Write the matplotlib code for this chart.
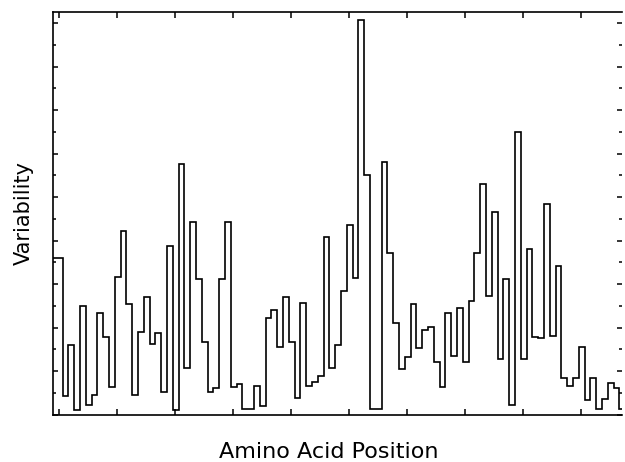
import numpy as np
import matplotlib
matplotlib.use("Agg")
import matplotlib.pyplot as plt
from matplotlib.ticker import MultipleLocator

# Variability per amino acid position
variability = [
    7.20, 0.85, 3.20, 0.21, 5.01, 0.44, 0.90, 4.68, 3.58, 1.25,
    6.32, 8.42, 5.06, 0.90, 3.81, 5.42, 3.22, 3.73, 1.05, 7.75,
    0.22, 11.52, 2.14, 8.86, 6.23, 3.33, 1.03, 1.22, 6.22, 8.86,
    1.28, 1.40, 0.24, 0.24, 1.31, 0.41, 4.42, 4.80, 3.12, 5.42,
    3.35, 0.77, 5.14, 1.31, 1.51, 1.77, 8.17, 2.16, 3.20, 5.68,
    8.73, 6.26, 18.14, 11.03, 0.24, 0.24, 11.60, 7.41, 4.22, 2.08,
    2.63, 5.07, 3.04, 3.89, 4.01, 2.43, 1.25, 4.65, 2.69, 4.88,
    2.43, 5.22, 7.41, 10.60, 5.45, 9.30, 2.54, 6.23, 0.44, 13.00,
    2.54, 7.61, 3.58, 3.53, 9.68, 3.61, 6.84, 1.66, 1.31, 1.66,
    3.12, 0.67, 1.66, 0.24, 0.70, 1.46, 1.20, 0.24,
]
x_ticks = [0, 10, 20, 30, 40, 50, 60, 70, 80, 90]
x_label = "Amino Acid Position"
y_label = "Variability"

XMIN, XMAX = -0.97, 97.2
YMIN, YMAX = 0.0, 18.52

values = np.array(variability)
edges = np.arange(len(values) + 1, dtype=float) - 0.3
edges[0] = XMIN

fig = plt.figure(figsize=(6.25, 4.62), dpi=100)
ax = fig.add_axes([53 / 625, 47.5 / 462, 569.4 / 625, 402.8 / 462])

ax.stairs(values, edges, baseline=None, color="black", linewidth=1.2)

ax.set_xlim(XMIN, XMAX)
ax.set_ylim(YMIN, YMAX)

ax.set_xticks(x_ticks)
ax.yaxis.set_major_locator(MultipleLocator(2))
ax.yaxis.set_minor_locator(MultipleLocator(1))
ax.tick_params(axis="both", which="both", direction="in", labelbottom=False,
               labelleft=False, top=True, right=True, color="black", width=1.1)
ax.tick_params(axis="x", which="major", length=4)
ax.tick_params(axis="y", which="major", length=3.5)
ax.tick_params(axis="y", which="minor", length=2)

for side in ["left", "top", "bottom"]:
    ax.spines[side].set_linewidth(1.2)
ax.spines["right"].set_visible(False)

fig.text(328.5 / 625, 1 - 452 / 462, x_label, ha="center", va="center",
         fontsize=16, family="DejaVu Sans", color="black")
fig.text(24 / 625, 1 - 213 / 462, y_label, ha="center", va="center",
         rotation=90, fontsize=15, family="DejaVu Sans", color="black")

fig.savefig("out.png", dpi=100)
